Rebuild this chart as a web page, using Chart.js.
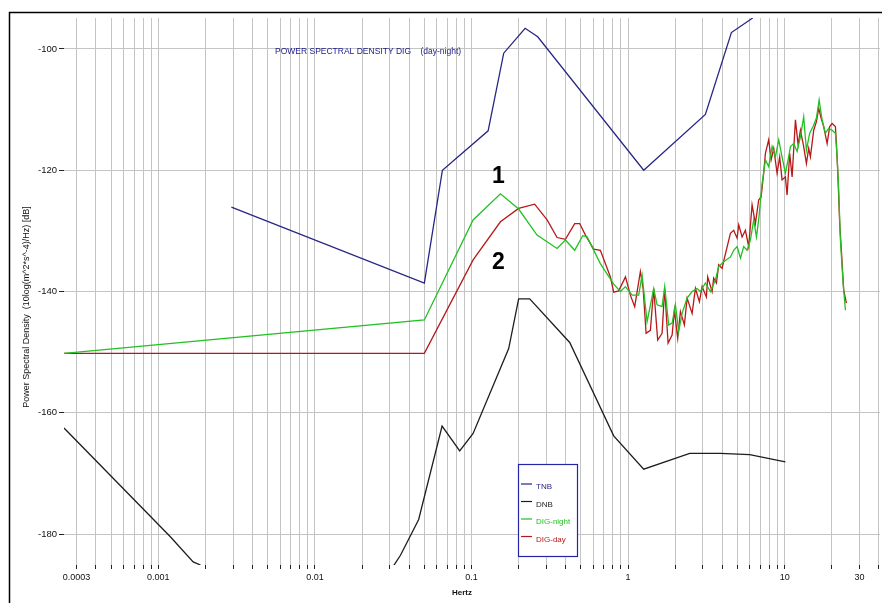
<!DOCTYPE html>
<html>
<head>
<meta charset="utf-8">
<script src="https://cdn.jsdelivr.net/npm/chart.js@4.4.1/dist/chart.umd.min.js"></script>
<style>
  html, body { margin: 0; padding: 0; background: #ffffff; }
  #wrap { width: 882px; height: 603px; position: relative; }
  canvas { display: block; }
</style>
</head>
<body>
<div id="wrap"><canvas id="psd" width="882" height="603"></canvas></div>
<script>
// Frequency axis labels and level ticks
const xTickLabels = [0.0003, 0.001, 0.01, 0.1, 1, 10, 30];
const yTickValues = [-180, -160, -140, -120, -100];

// TNB noise model
const tnbHz = [0.00293, 0.05, 0.0652, 0.1277, 0.1606, 0.22, 0.2647, 1.258, 3.116, 4.567, 6.247];
const tnbDb = [-126.1, -138.6, -120.0, -113.5, -100.7, -96.6, -98.0, -120.0, -110.8, -97.3, -94.9];

// DNB noise model (two pieces; null breaks the line)
const dnbHz = [0.00025, 0.00119, 0.00167, 0.00186, 0.01, 0.0313, 0.0352, 0.046, 0.0649, 0.0841, 0.1024,
  0.1728, 0.2, 0.2353, 0.4238, 0.809, 1.258, 2.474, 3.885, 5.977, 10.1];
const dnbDb = [-162.5, -180.4, -184.6, -185.1, null, -185.5, -183.5, -177.6, -162.2, -166.3, -163.4,
  -149.4, -141.2, -141.2, -148.4, -163.8, -169.3, -166.7, -166.7, -166.9, -168.1];

// DIG station, night-time spectrum
const nightHz = [0.00025, 0.05, 0.1024, 0.153, 0.2, 0.262, 0.352, 0.398, 0.456, 0.513, 0.547, 0.665, 0.809,
  0.893, 0.962, 1.06, 1.169, 1.228, 1.322, 1.457, 1.532, 1.648, 1.713, 1.816, 1.91, 2.005, 2.104, 2.212,
  2.381, 2.563, 2.758, 2.895, 3.116, 3.354, 3.611, 3.789, 4.078, 4.501, 4.725, 4.966, 5.222, 5.47, 5.75,
  6.04, 6.34, 6.6, 6.82, 7.17, 7.53, 7.9, 8.31, 8.72, 9.16, 9.62, 10.1, 10.6, 10.88, 11.42, 12.0, 12.6,
  13.22, 13.76, 14.44, 15.18, 15.94, 16.59, 17.33, 18.19, 19.1, 20.08, 21.08, 21.61, 22.12, 22.68, 23.6, 24.42];
const nightDb = [-150.2, -144.7, -128.2, -123.9, -126.4, -130.7, -132.9, -131.5, -133.2, -130.8, -131.0, -135.4, -138.8,
  -140.0, -139.2, -140.6, -140.6, -137.3, -145.0, -139.5, -142.2, -142.5, -139.2, -145.5, -145.2, -142.2, -146.6, -143.6,
  -141.1, -140.0, -139.5, -140.0, -138.6, -140.0, -138.1, -135.9, -135.1, -134.3, -133.2, -132.6, -134.5, -132.6, -133.2,
  -131.5, -128.2, -131.0, -128.2, -122.2, -118.3, -119.4, -116.1, -117.8, -115.0, -117.8, -120.5, -117.8, -116.1, -115.6, -116.9, -114.5,
  -111.2, -116.7, -113.9, -112.8, -111.4, -108.4, -111.7, -113.9, -113.1, -113.4, -113.9, -117.8, -123.3, -131.5, -138.6, -143.1];

// DIG station, day-time spectrum
const dayHz = [0.00025, 0.05, 0.1024, 0.153, 0.2, 0.253, 0.304, 0.352, 0.398, 0.456, 0.491, 0.534, 0.603, 0.665, 0.771, 0.809,
  0.871, 0.962, 1.034, 1.102, 1.198, 1.247, 1.303, 1.388, 1.457, 1.545, 1.648, 1.713, 1.8, 1.91, 1.975, 2.074, 2.158,
  2.288, 2.381, 2.563, 2.691, 2.853, 2.969, 3.162, 3.223, 3.439, 3.52, 3.664, 3.789, 3.984, 4.121,
  4.501, 4.725, 4.966, 5.086, 5.346, 5.61, 5.89, 6.19, 6.5, 6.82, 7.07, 7.34, 7.53, 7.9, 8.19, 8.51, 8.94, 9.29, 9.62,
  10.1, 10.36, 10.76, 11.15, 11.71, 12.18, 12.6, 13.22, 13.76, 14.23, 14.59, 15.32, 15.94, 16.49, 17.08, 17.74, 18.66,
  19.38, 20.08, 21.08, 21.39, 21.8, 22.45, 23.01, 23.81, 24.77];
const dayDb = [-150.2, -150.2, -134.8, -128.5, -126.3, -125.6, -128.2, -131.1, -131.4, -128.8, -128.8, -130.7, -133.0, -133.2, -137.6, -140.1,
  -139.9, -137.6, -140.6, -142.5, -136.7, -139.5, -146.9, -146.4, -139.5, -148.0, -146.9, -139.5, -148.5, -147.2, -143.1, -147.7, -143.3,
  -145.5, -141.1, -143.6, -139.5, -141.7, -139.2, -140.9, -137.6, -140.0, -137.8, -138.6, -135.6, -136.2, -134.5,
  -130.4, -129.9, -131.2, -129.0, -131.0, -129.9, -132.6, -125.7, -128.8, -124.9, -124.4, -120.5, -117.2, -115.0, -118.3, -116.4, -120.5, -117.8, -121.6,
  -121.1, -124.1, -117.2, -121.1, -111.7, -115.8, -113.4, -116.1, -118.9, -116.4, -117.8, -113.4, -112.0, -109.8, -111.4, -112.8, -115.6,
  -112.8, -112.3, -112.8, -115.6, -120.0, -128.8, -133.2, -139.8, -141.9];

// Peak markers written on the plot: [label, Hz, dB]
const peakMarks = [['1', 0.1485, -121.0], ['2', 0.1485, -135.3]];

const X_MIN = 0.00025, X_MAX = 40.6, Y_MIN = -185.1, Y_MAX = -94.9;
const FONT = '"Liberation Sans", Arial, sans-serif';

function toPoints(hz, db) { return hz.map((f, i) => ({ x: f, y: db[i] })); }

function sameValue(a, b) { return Math.abs(a - b) <= Math.abs(b) * 1e-6; }

function series(label, hz, db, color) {
  return {
    label, data: toPoints(hz, db), borderColor: color, backgroundColor: color,
    borderWidth: 1.3, pointRadius: 0, tension: 0, fill: false, spanGaps: false, clip: 0
  };
}

const decor = {
  id: 'decor',
  afterDraw(chart) {
    const ctx = chart.ctx;
    const xs = chart.scales.x, ys = chart.scales.y;
    ctx.save();

    // outer frame
    ctx.strokeStyle = '#000000';
    ctx.lineWidth = 1.5;
    ctx.beginPath();
    ctx.moveTo(9.5, 603);
    ctx.lineTo(9.5, 12.5);
    ctx.lineTo(882, 12.5);
    ctx.stroke();

    // heading inside the plot
    ctx.fillStyle = '#1a1a8c';
    ctx.font = '8.5px ' + FONT;
    ctx.textAlign = 'left';
    ctx.textBaseline = 'middle';
    ctx.fillText('POWER SPECTRAL DENSITY DIG    (day-night)', 275, 52);

    // axis titles
    ctx.fillStyle = '#111111';
    ctx.font = 'bold 8px ' + FONT;
    ctx.textAlign = 'center';
    ctx.fillText('Hertz', 462, 593);
    ctx.font = '9px ' + FONT;
    ctx.save();
    ctx.translate(27, 307);
    ctx.rotate(-Math.PI / 2);
    ctx.fillText('Power Spectral Density  (10log(m^2*s^-4)/Hz) [dB]', 0, 0);
    ctx.restore();

    // peak markers
    ctx.fillStyle = '#000000';
    ctx.font = 'bold 23px ' + FONT;
    ctx.textAlign = 'center';
    ctx.textBaseline = 'middle';
    peakMarks.forEach(([t, f, db]) => {
      ctx.fillText(t, xs.getPixelForValue(f), ys.getPixelForValue(db));
    });

    // legend box
    const bx = 518, by = 464, bw = 59, bh = 92;
    ctx.fillStyle = '#ffffff';
    ctx.fillRect(bx, by, bw, bh);
    ctx.strokeStyle = '#2424a8';
    ctx.lineWidth = 1.2;
    ctx.strokeRect(bx + 0.5, by + 0.5, bw, bh);
    ctx.font = '8px ' + FONT;
    ctx.textAlign = 'left';
    chart.data.datasets.forEach((ds, i) => {
      const yy = 486 + i * 17.5;
      ctx.strokeStyle = ds.borderColor;
      ctx.lineWidth = 1.2;
      ctx.beginPath();
      ctx.moveTo(521, yy - 2);
      ctx.lineTo(532, yy - 2);
      ctx.stroke();
      ctx.fillStyle = ds.borderColor;
      ctx.fillText(ds.label, 536, yy + 1);
    });

    ctx.restore();
  }
};

new Chart(document.getElementById('psd'), {
  type: 'line',
  data: {
    datasets: [
      series('TNB', tnbHz, tnbDb, '#262684'),
      series('DNB', dnbHz, dnbDb, '#1e1e1e'),
      series('DIG-night', nightHz, nightDb, '#22c022'),
      series('DIG-day', dayHz, dayDb, '#b81818')
    ]
  },
  options: {
    responsive: false,
    animation: false,
    devicePixelRatio: 1,
    parsing: true,
    layout: { padding: { left: 0, top: 18, right: 2, bottom: 0 } },
    plugins: { legend: { display: false }, tooltip: { enabled: false }, title: { display: false } },
    scales: {
      x: {
        type: 'logarithmic',
        min: X_MIN, max: X_MAX,
        border: { display: false },
        grid: { color: '#c4c4c4', lineWidth: 1, tickColor: '#222222', tickLength: 4 },
        afterBuildTicks(scale) {
          const ticks = [];
          for (let d = -4; d <= 1; d++) {
            for (let m = 1; m <= 9; m++) {
              const v = Number((m * Math.pow(10, d)).toPrecision(3));
              if (v >= 0.0003 && v <= X_MAX) ticks.push({ value: v });
            }
          }
          scale.ticks = ticks;
        },
        afterFit(scale) { scale.height = 38; },
        ticks: {
          autoSkip: false, maxRotation: 0, minRotation: 0, padding: 3,
          color: '#111111',
          font: { family: FONT, size: 9 },
          callback(value) {
            const hit = xTickLabels.find(t => sameValue(value, t));
            return hit !== undefined ? String(hit) : '';
          }
        }
      },
      y: {
        type: 'linear',
        min: Y_MIN, max: Y_MAX,
        border: { display: false },
        grid: { color: '#c4c4c4', lineWidth: 1, tickColor: '#222222', tickLength: 5 },
        afterBuildTicks(scale) { scale.ticks = yTickValues.map(v => ({ value: v })); },
        afterFit(scale) { scale.width = 64; },
        ticks: {
          padding: 2, color: '#111111',
          font: { family: FONT, size: 9.5 },
          callback(value) { return String(value); }
        }
      }
    }
  },
  plugins: [decor]
});
</script>
</body>
</html>
